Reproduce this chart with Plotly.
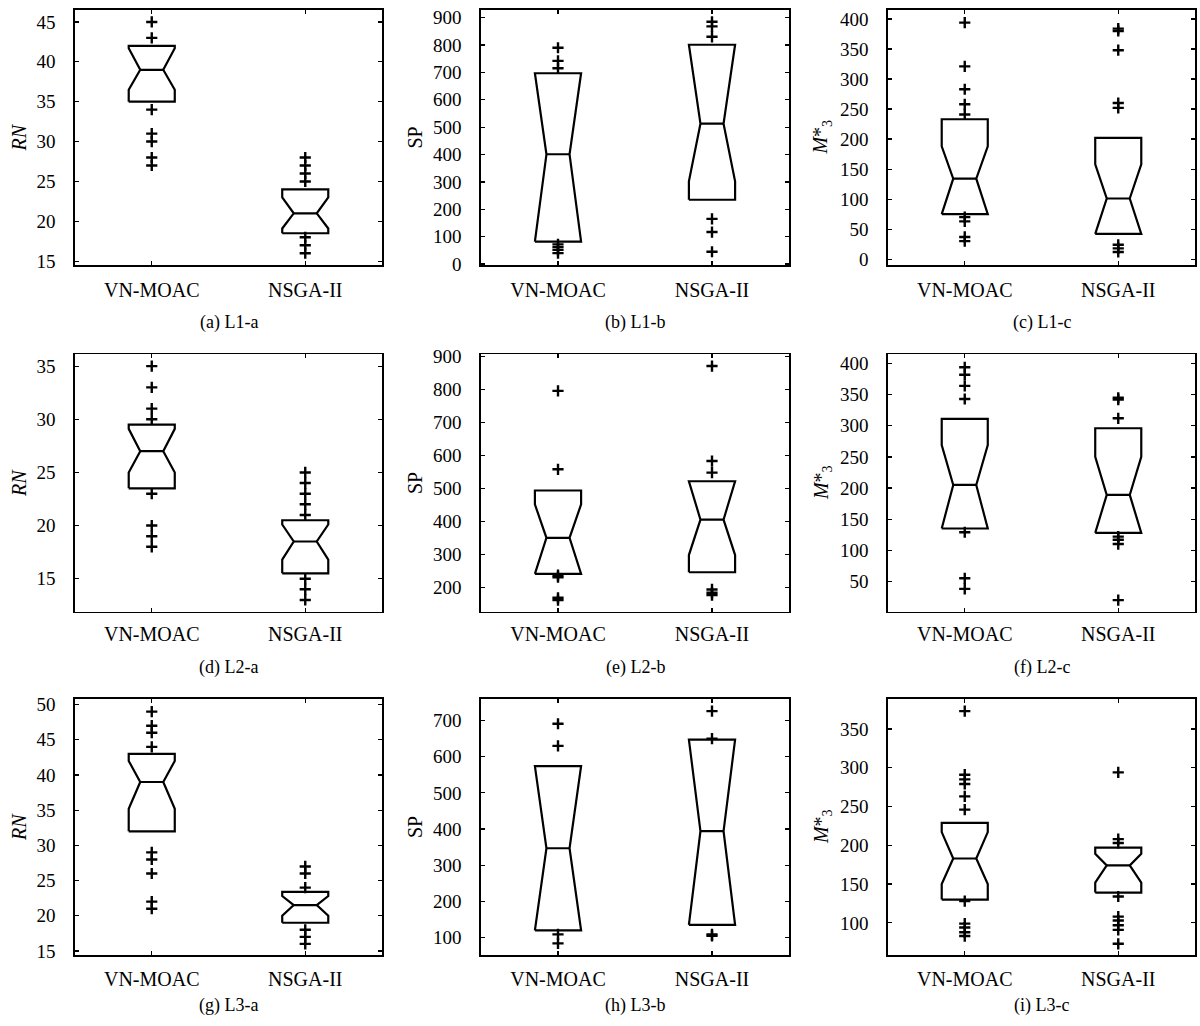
import plotly.graph_objects as go

methods = ["VN-MOAC", "NSGA-II"]

# (a) L1-a  : [VN-MOAC, NSGA-II]
a_q1 = [35, 18.5]; a_med = [39, 21]; a_q3 = [42, 24]
a_nlo = [36.5, 19.1]; a_nhi = [41.7, 23]
a_out_vn = [45, 43, 34, 31, 30, 28, 27]
a_out_ns = [28, 27, 26, 25, 18, 17, 16]

# (b) L1-b
b_q1 = [82, 235]; b_med = [401, 513]; b_q3 = [697, 801]
b_nlo = [82, 302]; b_nhi = [697, 801]
b_out_vn = [790, 742, 715, 72, 62, 52, 40]
b_out_ns = [885, 868, 830, 165, 117, 45]

# (c) L1-c
c_q1 = [75, 42]; c_med = [134, 101]; c_q3 = [233, 202]
c_nlo = [75, 42]; c_nhi = [188, 158]
c_out_vn = [394, 321, 283, 258, 241, 70, 63, 37, 30]
c_out_ns = [384, 380, 348, 260, 252, 24, 18, 12]

# (d) L2-a
d_q1 = [23.5, 15.5]; d_med = [27, 18.5]; d_q3 = [29.5, 20.5]
d_nlo = [25, 16.8]; d_nhi = [29.1, 20.1]
d_out_vn = [35, 33, 31, 30, 23, 20, 19, 18]
d_out_ns = [25, 24, 23, 22, 21, 15, 14, 13]

# (e) L2-b
e_q1 = [242, 247]; e_med = [351, 406]; e_q3 = [494, 522]
e_nlo = [242, 299]; e_nhi = [452, 522]
e_out_vn = [795, 558, 238, 232, 170, 163]
e_out_ns = [870, 583, 548, 195, 185, 178]

# (f) L2-c
f_q1 = [135, 128]; f_med = [205, 189]; f_q3 = [311, 296]
f_nlo = [135, 128]; f_nhi = [269, 250]
f_out_vn = [394, 382, 364, 343, 129, 55, 38]
f_out_ns = [345, 342, 312, 122, 117, 110, 20]

# (g) L3-a
g_q1 = [32, 19]; g_med = [39, 21.5]; g_q3 = [43, 23.4]
g_nlo = [35.2, 20.0]; g_nhi = [42, 22.8]
g_out_vn = [49, 47, 46, 44, 29, 28, 26, 22, 21]
g_out_ns = [27, 26, 24, 18, 17, 16]

# (h) L3-b
h_q1 = [120, 135]; h_med = [347, 394]; h_q3 = [574, 647]
h_nlo = [120, 135]; h_nhi = [574, 647]
h_out_vn = [691, 630, 109, 84]
h_out_ns = [726, 650, 109, 105]

# (i) L3-c
i_q1 = [130, 139]; i_med = [183, 174]; i_q3 = [229, 197]
i_nlo = [150, 152]; i_nhi = [217, 189]
i_out_vn = [373, 291, 285, 279, 263, 246, 128, 99, 94, 88, 83]
i_out_ns = [294, 208, 203, 134, 108, 103, 97, 91, 73]

# axis settings per panel
y_ranges = [[14.5, 46.5], [-4, 928], [-10, 415],
            [11.9, 36.1], [128, 905], [1.5, 414.5],
            [14.4, 50.8], [51.5, 759.5], [58.4, 388.6]]
y_dticks = [5, 100, 50, 5, 100, 50, 5, 100, 50]
y_titles = ["<i>RN</i>", "SP", "<i>M</i>*<sub>3</sub>"] * 3
captions = ["(a) L1-a", "(b) L1-b", "(c) L1-c",
            "(d) L2-a", "(e) L2-b", "(f) L2-c",
            "(g) L3-a", "(h) L3-b", "(i) L3-c"]

panels = [
    (a_q1, a_med, a_q3, a_nlo, a_nhi, a_out_vn, a_out_ns),
    (b_q1, b_med, b_q3, b_nlo, b_nhi, b_out_vn, b_out_ns),
    (c_q1, c_med, c_q3, c_nlo, c_nhi, c_out_vn, c_out_ns),
    (d_q1, d_med, d_q3, d_nlo, d_nhi, d_out_vn, d_out_ns),
    (e_q1, e_med, e_q3, e_nlo, e_nhi, e_out_vn, e_out_ns),
    (f_q1, f_med, f_q3, f_nlo, f_nhi, f_out_vn, f_out_ns),
    (g_q1, g_med, g_q3, g_nlo, g_nhi, g_out_vn, g_out_ns),
    (h_q1, h_med, h_q3, h_nlo, h_nhi, h_out_vn, h_out_ns),
    (i_q1, i_med, i_q3, i_nlo, i_nhi, i_out_vn, i_out_ns),
]

W, H = 1200, 1026
col_px = [(75, 382), (481, 789), (888, 1195)]
row_px = [(1, 261), (352, 614), (703, 964)]
caption_y = [319, 671, 1015]
label_standoff = [6, 4, 5]
title_x = [19, 415, 822]

FONT = "Liberation Serif"
BW = 0.15   # half box width (x units)
NW = 0.075  # half notch width

fig = go.Figure()
annotations = []

for k, (q1, med, q3, nlo, nhi, out_vn, out_ns) in enumerate(panels):
    r, c = divmod(k, 3)
    ax = "" if k == 0 else str(k + 1)
    xref, yref = "x" + ax, "y" + ax
    xs, ys = [], []
    for j in range(2):
        cx = j + 1
        lo = max(nlo[j], q1[j])
        hi = min(nhi[j], q3[j])
        L, R = cx - BW, cx + BW
        nl, nr = cx - NW, cx + NW
        xs += [L, L, nl, L, L, R, R, nr, R, R, L, None, nl, nr, None]
        ys += [q1[j], lo, med[j], hi, q3[j], q3[j], hi, med[j], lo, q1[j], q1[j], None,
               med[j], med[j], None]
    fig.add_trace(go.Scatter(x=xs, y=ys, mode="lines", xaxis=xref, yaxis=yref,
                             line=dict(color="black", width=2.2), showlegend=False,
                             hoverinfo="skip"))
    ox = [1] * len(out_vn) + [2] * len(out_ns)
    oy = list(out_vn) + list(out_ns)
    fig.add_trace(go.Scatter(x=ox, y=oy, mode="markers", xaxis=xref, yaxis=yref,
                             marker=dict(symbol="cross-thin", size=8, color="black",
                                         line=dict(color="black", width=2.4)),
                             showlegend=False))
    x0, x1 = col_px[c]
    y0, y1 = row_px[r]
    fig.layout["xaxis" + ax] = dict(
        domain=[x0 / W, x1 / W], range=[0.5, 2.5], anchor=yref,
        tickmode="array", tickvals=[1, 2], ticktext=methods,
        ticks="inside", ticklen=4, tickwidth=1.2, tickcolor="black",
        showline=True, linecolor="black", linewidth=1.6, mirror="ticks",
        showgrid=False, zeroline=False, ticklabelstandoff=label_standoff[r],
        tickfont=dict(family=FONT, size=20, color="black"), fixedrange=True)
    fig.layout["yaxis" + ax] = dict(
        domain=[1 - y1 / H, 1 - y0 / H], range=y_ranges[k], anchor=xref,
        dtick=y_dticks[k], tick0=0,
        ticks="inside", ticklen=4, tickwidth=1.2, tickcolor="black",
        showline=True, linecolor="black", linewidth=1.6, mirror="ticks",
        showgrid=False, zeroline=False, ticklabelstandoff=14,
        tickfont=dict(family=FONT, size=19, color="black"), fixedrange=True)
    annotations.append(dict(text=captions[k], xref="paper", yref="paper",
                            x=(x0 + x1) / 2 / W, y=1 - caption_y[r] / H,
                            showarrow=False, xanchor="center", yanchor="middle",
                            font=dict(family=FONT, size=18, color="black")))
    annotations.append(dict(text=y_titles[k], xref="paper", yref="paper",
                            x=title_x[c] / W, y=1 - (y0 + y1) / 2 / H,
                            textangle=-90, showarrow=False,
                            xanchor="center", yanchor="middle",
                            font=dict(family=FONT, size=20, color="black")))

fig.update_layout(width=W, height=H, margin=dict(l=0, r=0, t=0, b=0),
                  paper_bgcolor="white", plot_bgcolor="white",
                  annotations=annotations, showlegend=False)

fig.write_html("out.html", config={"displayModeBar": False, "staticPlot": True},
               post_script="document.body.style.margin='0';"
                           "document.body.style.overflow='hidden';")
